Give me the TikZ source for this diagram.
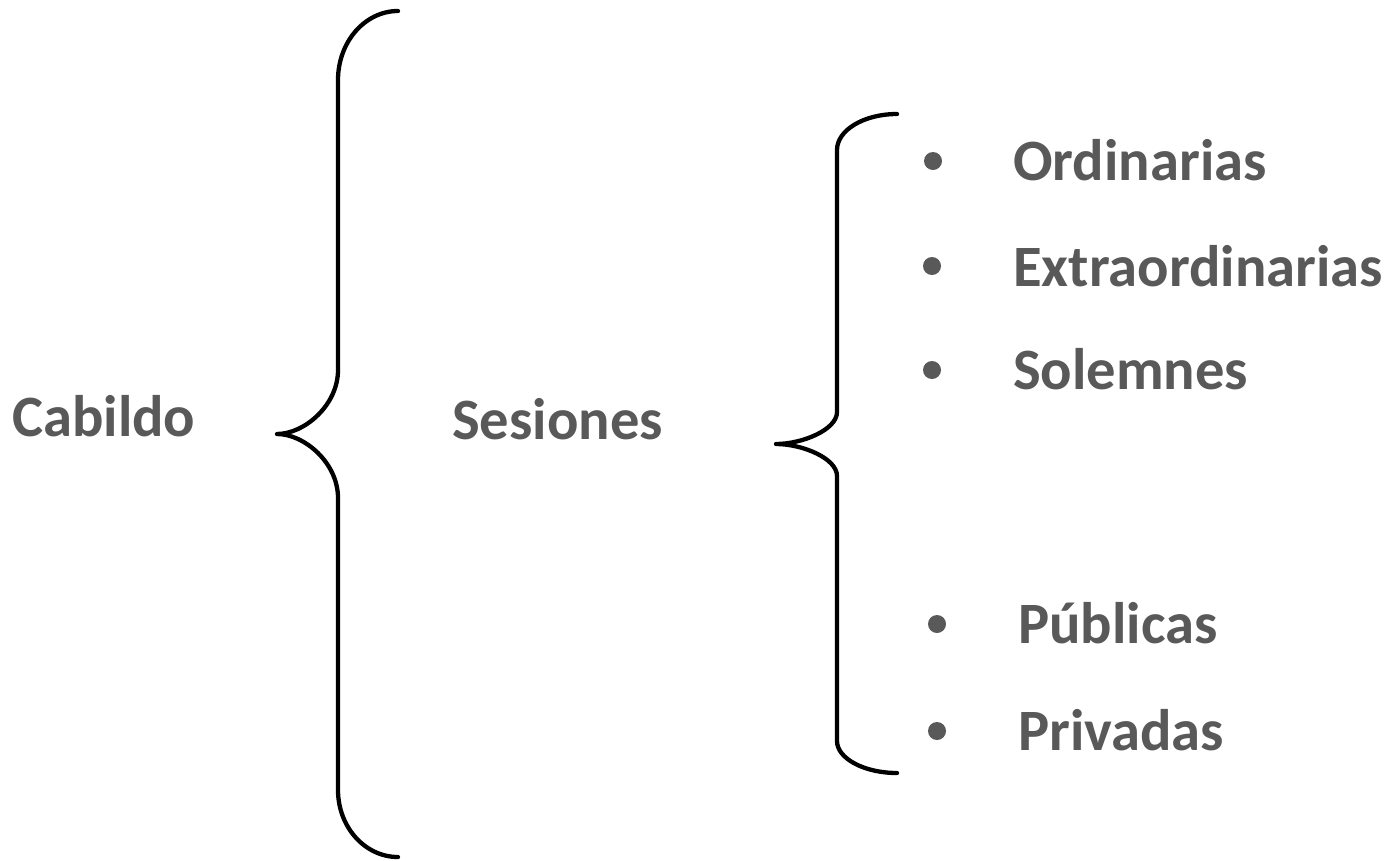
\documentclass[tikz,border=0pt]{standalone}
\usepackage{fontspec}
\setmainfont{Carlito}
\definecolor{txtgray}{HTML}{595959}
\begin{document}
\begin{tikzpicture}[x=1pt,y=-1pt,
  lbl/.style={anchor=base west,inner sep=0pt,text=txtgray,font=\fontsize{58.6}{60}\selectfont\bfseries},
  bul/.style={circle,fill=txtgray,inner sep=0pt,minimum size=18pt},
  bracepath/.style={draw=black,line width=4.3pt,line cap=round,line join=round}]
\useasboundingbox (0,0) rectangle (1392,860);
% big brace
\draw[bracepath] (398,11) .. controls (364.9,11) and (338,41.9) .. (338,80)
  -- (338,370) .. controls (338,405.3) and (304.3,434) .. (277,434)
  .. controls (304.3,434) and (338,462.7) .. (338,498)
  -- (338,790) .. controls (338,827) and (364.9,857) .. (398,857);
% small brace
\draw[bracepath] (897,114) .. controls (863.9,114) and (837,130.1) .. (837,150)
  -- (837,412) .. controls (837,429.7) and (802.3,444) .. (776,444)
  .. controls (802.3,444) and (837,458.3) .. (837,476)
  -- (837,741) .. controls (837,758.3) and (863.9,773) .. (897,773);
% labels
\node[lbl] (cab) at (12,436) {Cabildo};
\node[lbl] (ses) at (452,439) {Sesiones};
\node[bul] (b1) at (933,161) {};
\node[lbl] (ord) at (1013,180) {Ordinarias};
\node[bul] (b2) at (932,266) {};
\node[lbl] (ext) at (1013,286) {Extraordinarias};
\node[bul] (b3) at (932,370) {};
\node[lbl] (sol) at (1013,389) {Solemnes};
\node[bul] (b4) at (937,624) {};
\node[lbl] (pub) at (1018,643) {Públicas};
\node[bul] (b5) at (937,731) {};
\node[lbl] (pri) at (1018,750) {Privadas};
\end{tikzpicture}
\end{document}
